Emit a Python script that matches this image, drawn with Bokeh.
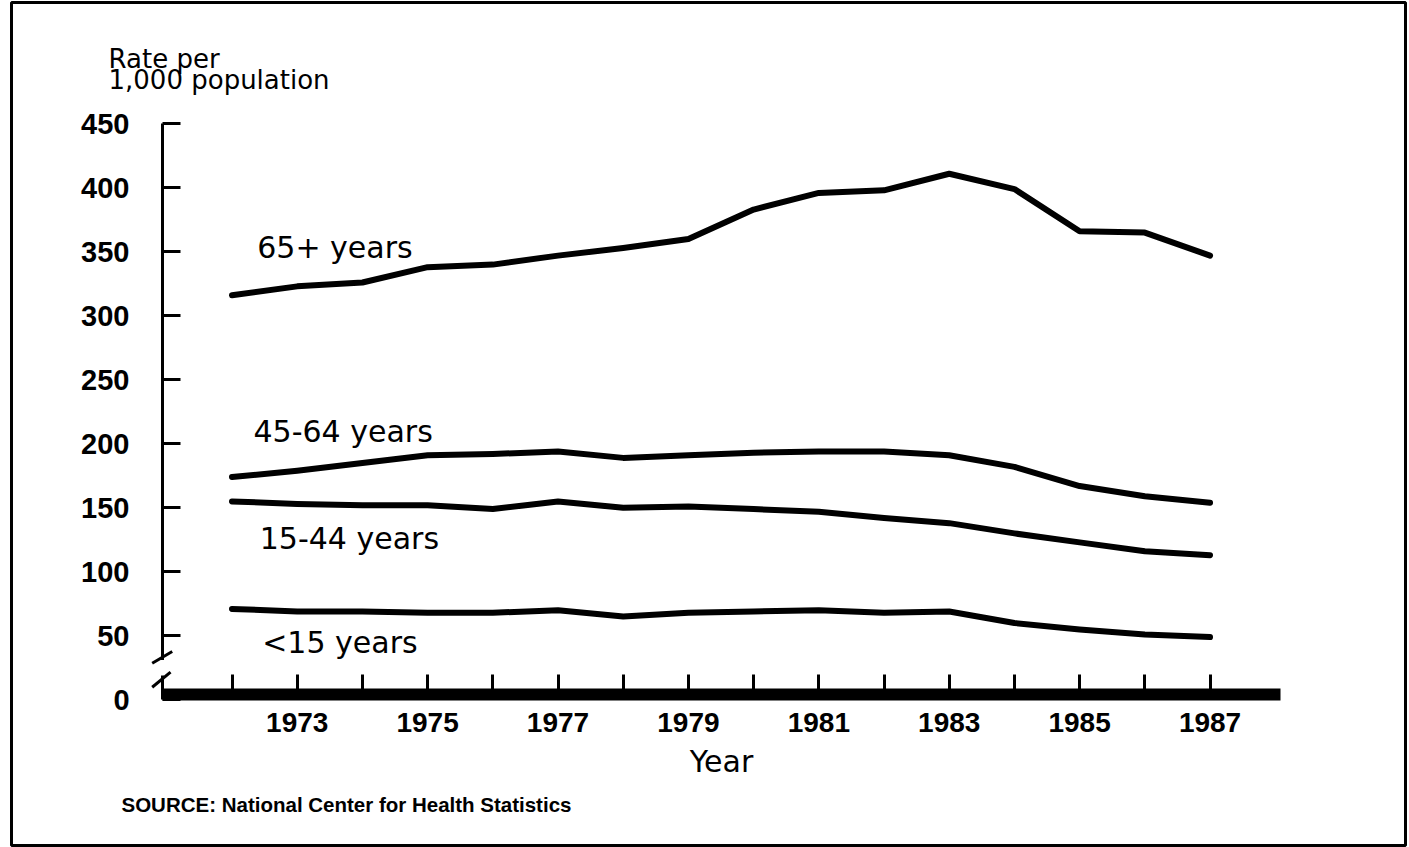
from bokeh.plotting import figure
from bokeh.models import Range1d, FixedTicker, Label, Arrow
from bokeh.embed import file_html
from bokeh.resources import INLINE

# ---- data ----
years = list(range(1972, 1988))
age_65_plus = [316, 323, 326, 338, 340, 347, 353, 360, 383, 396, 398, 411, 399, 366, 365, 347]
age_45_64 = [174, 179, 185, 191, 192, 194, 189, 191, 193, 194, 194, 191, 182, 167, 159, 154]
age_15_44 = [155, 153, 152, 152, 149, 155, 150, 151, 149, 147, 142, 138, 130, 123, 116, 113]
age_under_15 = [71, 69, 69, 68, 68, 70, 65, 68, 69, 70, 68, 69, 60, 55, 51, 49]
series_names = ["65+ years", "45-64 years", "15-44 years", "<15 years"]
y_ticks = [0, 50, 100, 150, 200, 250, 300, 350, 400, 450]
x_label_years = [y for y in years if y % 2 == 1]
x_minor_years = [y for y in years if y % 2 == 0]
y_title_lines = ["Rate per", "1,000 population"]
x_title = "Year"
source_text = "SOURCE: National Center for Health Statistics"

series = [age_65_plus, age_45_64, age_15_44, age_under_15]

# axis extents (data units)
X_AXIS_START, X_AXIS_END = 1970.934, 1988.081
Y_AXIS_START, Y_AXIS_END = 0, 450

p = figure(width=1409, height=847,
           x_range=Range1d(1968.618, 1989.998), y_range=Range1d(-113.83, 544.77),
           output_backend="svg", toolbar_location=None,
           min_border_left=11, min_border_right=4,
           min_border_top=2, min_border_bottom=2)
p.title.visible = False
p.xgrid.visible = False
p.ygrid.visible = False
p.outline_line_color = "black"
p.outline_line_width = 3
p.background_fill_color = "white"
p.border_fill_color = "white"

# y axis
ya = p.yaxis[0]
ya.ticker = FixedTicker(ticks=y_ticks)
ya.fixed_location = X_AXIS_START
ya.bounds = (Y_AXIS_START, Y_AXIS_END)
ya.axis_line_width = 3
ya.major_tick_in = 18
ya.major_tick_out = 0
ya.major_tick_line_width = 3
ya.minor_tick_line_color = None
ya.major_label_text_font = "Liberation Sans"
ya.major_label_text_font_style = "bold"
ya.major_label_text_font_size = "29px"
ya.major_label_text_color = "black"
ya.major_label_standoff = 33

# x axis
xa = p.xaxis[0]
xa.ticker = FixedTicker(ticks=x_label_years, minor_ticks=x_minor_years)
xa.fixed_location = 4.5
xa.bounds = (X_AXIS_START, X_AXIS_END)
xa.axis_line_width = 12
xa.major_tick_in = 20
xa.major_tick_out = 0
xa.major_tick_line_width = 3
xa.minor_tick_in = 20
xa.minor_tick_out = 0
xa.minor_tick_line_width = 3
xa.major_label_text_font = "Liberation Sans"
xa.major_label_text_font_style = "bold"
xa.major_label_text_font_size = "28px"
xa.major_label_text_color = "black"
xa.major_label_standoff = 19
xa.axis_label = x_title
xa.axis_label_text_font = "DejaVu Sans"
xa.axis_label_text_font_style = "normal"
xa.axis_label_text_font_size = "30px"
xa.axis_label_text_color = "black"
xa.axis_label_standoff = 8

# series lines
for vals in series:
    p.line(years, vals, line_width=6, line_color="black",
           line_join="round", line_cap="round")

# series labels
label_pos = [(1972.387, 353.6), (1972.33, 209.3), (1972.426, 126.2), (1972.463, 45.0)]
for name, (lx, ly) in zip(series_names, label_pos):
    p.add_layout(Label(x=lx, y=ly, text=name, text_font="DejaVu Sans",
                       text_font_size="30px", text_color="black",
                       text_baseline="alphabetic"))

# y title (two lines)
p.add_layout(Label(x=1970.106, y=501.0, text=y_title_lines[0], text_font="DejaVu Sans",
                   text_font_size="26px", text_color="black", text_baseline="alphabetic"))
p.add_layout(Label(x=1970.106, y=484.6, text=y_title_lines[1], text_font="DejaVu Sans",
                   text_font_size="26px", text_color="black", text_baseline="alphabetic"))

# source note
p.add_layout(Label(x=1970.305, y=-81.5, text=source_text,
                   text_font="Liberation Sans",
                   text_font_style="bold", text_font_size="20.5px", text_color="black",
                   text_baseline="alphabetic"))

# axis break marks
p.add_layout(Arrow(x_start=X_AXIS_START, y_start=31, x_end=X_AXIS_START, y_end=19,
                   line_color="white", line_width=8, end=None))
p.add_layout(Arrow(x_start=1970.776, y_start=28.6, x_end=1971.083, y_end=37.7,
                   line_color="black", line_width=3, end=None))
p.add_layout(Arrow(x_start=1970.776, y_start=9.8, x_end=1971.057, y_end=21.6,
                   line_color="black", line_width=3, end=None))

open("out.html", "w").write(file_html(p, INLINE))
